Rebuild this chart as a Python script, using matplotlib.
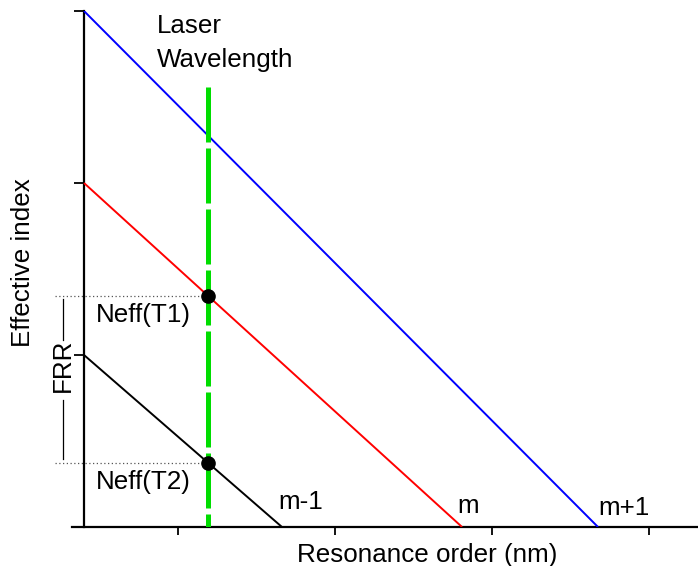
import matplotlib
matplotlib.use("Agg")
import matplotlib.pyplot as plt
import numpy as np

plt.rcParams['font.family'] = ['Liberation Sans', 'DejaVu Sans']

# ---- data ----
orders = ['m-1', 'm', 'm+1']
intercepts = [1.0, 2.0, 3.0]          # effective index at y-axis
zero_cross = [1.261, 2.408, 3.274]    # resonance where line meets axis
colors = ['black', 'red', 'blue']
laser_x = 0.79
laser_top = 2.558
x_ticks = [0.6, 1.6, 2.6, 3.6]
y_ticks = [1, 2, 3]

FS = 18.7

fig = plt.figure(figsize=(6.98, 5.66), dpi=100)
W, H = 698, 566
ax = fig.add_axes([72 / W, (H - 527) / H, 1 - 72 / W, (527 - 11) / H])
ax.set_xlim(-0.0764, 3.911)
ax.set_ylim(0, 3)

for b, z, c in zip(intercepts, zero_cross, colors):
    ax.plot([0, z], [b, 0], color=c, lw=1.4, solid_capstyle='butt', zorder=3)

# laser line
ax.plot([laser_x, laser_x], [laser_top, 0], color='#00dd00', lw=3.6,
        dashes=(11.0, 1.2), dash_capstyle='butt', zorder=4)

# intersection points (m-1 and m)
neff = []
for b, z in zip(intercepts[:2], zero_cross[:2]):
    neff.append(b * (1 - laser_x / z))
ax.plot([laser_x] * 2, neff, 'o', color='black', ms=9.5, zorder=5)

# dotted guides
for n in neff:
    ax.plot([-0.185, laser_x], [n, n], color='#555555', lw=0.9,
            ls=(0, (1, 2)), clip_on=False, zorder=2)

ax.text(0.076, neff[1] - 0.151, 'Neff(T1)', fontsize=FS, ha='left', va='baseline')
ax.text(0.076, neff[0] - 0.151, 'Neff(T2)', fontsize=FS, ha='left', va='baseline')

# FRR marker
fx = -0.134
ax.plot([fx, fx], [neff[1] - 0.02, 1.09], color='black', lw=0.9, clip_on=False)
ax.plot([fx, fx], [0.74, neff[0] + 0.02], color='black', lw=0.9, clip_on=False)
ax.text(fx, 0.94, 'FRR', fontsize=FS, rotation=90, ha='center', va='center')

# order labels
offs = [(-0.025, 0.145), (-0.032, 0.122), (0.0, 0.11)]
for lab, z, (dx, dy) in zip(orders, zero_cross, offs):
    ax.text(z + dx, dy, lab, fontsize=FS, ha='left', va='center')

ax.text(0.465, 2.872, 'Laser', fontsize=FS, ha='left', va='baseline')
ax.text(0.465, 2.674, 'Wavelength', fontsize=FS, ha='left', va='baseline')

# spines
for s in ['top', 'right']:
    ax.spines[s].set_visible(False)
ax.spines['left'].set_position(('data', 0))
ax.spines['left'].set_linewidth(1.6)
ax.spines['bottom'].set_linewidth(1.6)
ax.set_xticks(x_ticks)
ax.set_yticks(y_ticks)
ax.set_xticklabels([])
ax.set_yticklabels([])
ax.tick_params(axis='x', direction='out', length=6, width=1.3)
ax.tick_params(axis='y', direction='out', length=7.5, width=1.3)

fig.text(427 / W, 1 - 562 / H, 'Resonance order (nm)', fontsize=FS,
         ha='center', va='baseline')
fig.text(23 / W, 1 - 263 / H, 'Effective index', fontsize=FS, rotation=90,
         ha='center', va='center')

fig.savefig('out.png', dpi=100)
